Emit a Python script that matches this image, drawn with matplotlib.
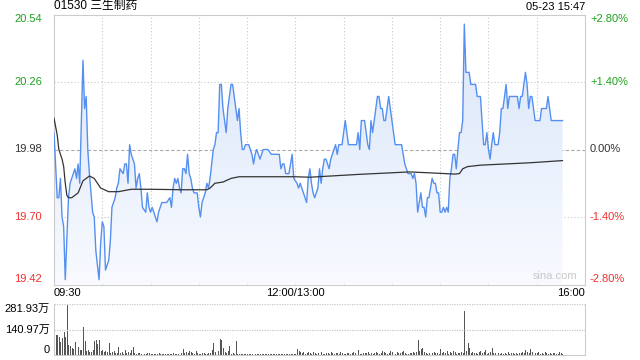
import matplotlib
matplotlib.use("Agg")
import matplotlib.pyplot as plt
import numpy as np

plt.rcParams['font.family'] = ['Liberation Sans', 'Noto Sans CJK SC', 'DejaVu Sans']

title = "01530 三生制药"
stamp = "05-23 15:47"
prev_close = 19.98
y_lo, y_hi = 19.42, 20.54
price_ticks = [20.54, 20.26, 19.98, 19.70, 19.42]
pct_labels = ["+2.80%", "+1.40%", "0.00%", "-1.40%", "-2.80%"]
time_labels = ["09:30", "12:00/13:00", "16:00"]
vol_max = 281.93

# trading minute index (0 = 09:30, 150 = 12:00/13:00, 330 = 16:00) and price
price_t = [0, 2, 3, 4, 5, 6, 7, 9, 10, 11, 13, 14, 15, 16, 18, 19, 20, 21, 22, 24,
           25, 26, 28, 29, 30, 31, 32, 34, 35, 36, 38, 39, 40, 41, 43, 44, 45, 46, 47, 48,
           50, 51, 52, 53, 54, 55, 57, 58, 59, 60, 61, 62, 63, 64, 65, 67, 70, 72, 73, 74,
           75, 76, 77, 78, 79, 80, 81, 82, 83, 84, 85, 86, 87, 89, 90, 91, 92, 93, 94, 95,
           96, 97, 98, 99, 100, 101, 102, 103, 104, 105, 106, 107, 108, 109, 110, 111, 112, 113, 114, 115,
           116, 117, 118, 119, 121, 122, 123, 124, 125, 126, 127, 128, 129, 130, 133, 135, 140, 141, 142, 143,
           144, 146, 147, 148, 149, 151, 152, 153, 154, 155, 156, 157, 158, 159, 160, 161, 162, 163, 164, 165,
           166, 167, 168, 169, 170, 171, 172, 173, 174, 175, 176, 177, 179, 180, 181, 182, 183, 188, 189, 190,
           191, 193, 194, 195, 196, 197, 198, 199, 200, 201, 202, 203, 204, 205, 206, 207, 208, 209, 210, 211,
           212, 216, 217, 218, 219, 220, 222, 223, 224, 225, 226, 227, 228, 229, 230, 231, 232, 233, 234, 235,
           236, 237, 238, 239, 240, 241, 242, 243, 244, 245, 246, 247, 248, 249, 250, 251, 252, 253, 254, 255,
           256, 258, 259, 262, 263, 265, 266, 267, 268, 269, 270, 271, 272, 273, 274, 276, 277, 278, 279, 280,
           281, 282, 283, 288, 289, 290, 291, 292, 293, 294, 295, 296, 297, 298, 299, 302, 303, 306, 307, 308,
           309, 316]
price = [20.05, 19.78, 19.78, 19.86, 19.70, 19.66, 19.44, 19.78, 19.84, 19.86, 19.90, 19.86, 19.92, 19.84, 20.35, 20.15, 20.20, 19.98, 19.88, 19.72,
         19.70, 19.56, 19.44, 19.59, 19.68, 19.66, 19.48, 19.52, 19.60, 19.74, 19.78, 19.82, 19.84, 19.90, 19.88, 19.92, 19.92, 19.84, 20.00, 19.96,
         19.92, 19.82, 19.86, 19.88, 19.82, 19.74, 19.72, 19.80, 19.74, 19.72, 19.74, 19.72, 19.70, 19.68, 19.72, 19.76, 19.76, 19.78, 19.74, 19.82,
         19.86, 19.84, 19.86, 19.82, 19.80, 19.90, 19.90, 19.88, 19.96, 19.88, 19.86, 19.82, 19.80, 19.80, 19.74, 19.70, 19.76, 19.78, 19.80, 19.84,
         19.82, 19.86, 19.92, 19.98, 20.00, 20.05, 20.05, 20.25, 20.25, 20.15, 20.10, 20.05, 20.15, 20.20, 20.25, 20.25, 20.20, 20.15, 20.10, 20.15,
         20.05, 19.98, 19.98, 20.00, 20.00, 19.98, 19.96, 19.92, 19.96, 19.98, 19.96, 19.94, 19.96, 19.98, 19.98, 19.96, 19.96, 19.90, 19.92, 19.92,
         19.88, 19.88, 19.92, 19.96, 19.86, 19.84, 19.82, 19.84, 19.82, 19.80, 19.78, 19.76, 19.86, 19.90, 19.84, 19.80, 19.78, 19.80, 19.82, 19.90,
         19.84, 19.90, 19.94, 19.94, 19.92, 19.90, 19.94, 19.96, 19.98, 20.00, 19.96, 20.00, 20.00, 20.05, 20.10, 20.05, 20.00, 20.00, 20.05, 19.98,
         20.10, 20.10, 20.05, 20.00, 19.98, 20.10, 20.05, 20.10, 20.15, 20.20, 20.20, 20.15, 20.15, 20.10, 20.10, 20.15, 20.20, 20.15, 20.10, 20.05,
         20.00, 20.00, 19.96, 19.92, 19.90, 19.88, 19.88, 19.86, 19.88, 19.84, 19.72, 19.76, 19.80, 19.74, 19.74, 19.70, 19.78, 19.78, 19.82, 19.86,
         19.84, 19.84, 19.80, 19.80, 19.72, 19.72, 19.74, 19.72, 19.74, 19.72, 19.86, 19.90, 19.96, 19.96, 19.90, 19.98, 20.05, 20.05, 20.10, 20.50,
         20.30, 20.30, 20.25, 20.25, 20.20, 20.20, 20.10, 20.00, 20.00, 20.05, 19.98, 19.94, 20.00, 20.05, 20.00, 20.00, 20.05, 20.15, 20.15, 20.20,
         20.25, 20.15, 20.20, 20.20, 20.15, 20.20, 20.20, 20.25, 20.30, 20.25, 20.15, 20.20, 20.20, 20.15, 20.10, 20.10, 20.15, 20.15, 20.20, 20.15,
         20.10, 20.10]

# average price line
avg_t = [0, 2, 3, 5, 6, 7, 8, 9, 11, 15, 18, 22, 25, 27, 29, 34, 40, 48, 60, 80,
         95, 97, 100, 105, 110, 115, 150, 159, 190, 221, 234, 249, 252, 254, 257, 265, 296, 316]
avg_p = [20.11, 20.04, 19.98, 19.94, 19.91, 19.84, 19.79, 19.78, 19.78, 19.80, 19.85, 19.87, 19.86, 19.84, 19.82, 19.805, 19.805, 19.815, 19.815, 19.813,
         19.813, 19.82, 19.84, 19.845, 19.86, 19.867, 19.867, 19.865, 19.877, 19.887, 19.883, 19.878, 19.88, 19.90, 19.909, 19.915, 19.925, 19.934]

# volume per minute, in 万 shares
volume = [166, 112, 108, 100, 70, 95, 125, 100, 282, 55,
          48, 40, 35, 70, 150, 45, 25, 30, 155, 75,
          20, 25, 18, 15, 30, 75, 85, 60, 82, 20,
          25, 15, 20, 18, 65, 12, 15, 22, 10, 12,
          45, 12, 15, 8, 30, 10, 14, 12, 25, 45,
          10, 8, 12, 9, 7, 10, 6, 8, 12, 10,
          6, 5, 8, 4, 6, 9, 5, 7, 6, 8,
          5, 7, 4, 6, 10, 8, 6, 5, 12, 10,
          35, 10, 15, 9, 22, 14, 12, 8, 20, 10,
          7, 6, 9, 12, 6, 8, 10, 12, 25, 65,
          15, 12, 20, 90, 85, 40, 15, 12, 20, 50,
          8, 12, 6, 75, 5, 7, 4, 6, 5, 4,
          6, 3, 5, 4, 6, 5, 3, 4, 5, 3,
          4, 6, 3, 5, 4, 3, 6, 4, 5, 3,
          5, 4, 6, 3, 4, 5, 3, 4, 6, 5,
          8, 35, 20, 15, 10, 18, 8, 12, 15, 10,
          8, 14, 10, 6, 12, 9, 15, 8, 6, 10,
          12, 8, 14, 10, 6, 9, 12, 8, 15, 10,
          6, 8, 10, 12, 7, 9, 14, 10, 22, 30,
          8, 6, 10, 12, 9, 14, 8, 10, 6, 12,
          15, 10, 8, 12, 20, 14, 10, 8, 12, 22,
          16, 10, 8, 14, 12, 10, 14, 20, 10, 6,
          8, 12, 10, 15, 12, 18, 85, 20, 35, 40,
          14, 10, 6, 12, 8, 10, 14, 10, 12, 8,
          35, 12, 15, 10, 20, 8, 14, 12, 20, 14,
          8, 10, 12, 15, 10, 243, 20, 65, 40, 10,
          14, 12, 10, 8, 18, 20, 12, 15, 30, 8,
          10, 14, 40, 12, 9, 6, 10, 8, 12, 6,
          10, 8, 14, 6, 12, 10, 8, 12, 6, 10,
          12, 15, 10, 30, 14, 10, 35, 18, 8, 10,
          12, 15, 8, 10, 6, 14, 10, 8, 12, 6,
          10, 12, 8, 6, 14, 10, 8]

green = '#1ea01e'
red = '#f03030'
grid_c = '#c8c8c8'
frame_c = '#cccccc'

fig = plt.figure(figsize=(6.4, 3.6), dpi=100)
ax = fig.add_axes([54 / 640, 75.5 / 360, 531 / 640, 270 / 360])
axv = fig.add_axes([54 / 640, 5 / 360, 531 / 640, 51 / 360])

# price panel
ax.set_xlim(0, 330)
ax.set_ylim(y_lo, y_hi)
for s in ax.spines.values():
    s.set_color(frame_c)
ax.set_xticks([])
ax.set_yticks([])
for t in range(30, 330, 30):
    ax.axvline(t, color=grid_c, lw=0.8, ls=(0, (1, 2)), zorder=0)
for v in price_ticks[1:-1]:
    if v == prev_close:
        ax.axhline(v, color='#aaaaaa', lw=0.8, ls=(0, (3, 2)), zorder=0)
    else:
        ax.axhline(v, color=grid_c, lw=0.8, ls=(0, (1, 2)), zorder=0)

# gradient fill under the price line
poly = ax.fill_between(price_t, price, y_lo, color='none', lw=0)
grad = np.linspace(0, 1, 256).reshape(-1, 1)
cmap = matplotlib.colors.LinearSegmentedColormap.from_list('g', ['#f8faff', '#d8e5f9'])
im = ax.imshow(grad, aspect='auto', cmap=cmap, origin='lower',
               extent=[0, 330, y_lo, y_hi], zorder=1)
im.set_clip_path(poly.get_paths()[0], transform=ax.transData)
ax.set_xlim(0, 330)
ax.set_ylim(y_lo, y_hi)

ax.plot(price_t, price, color='#5590f0', lw=1.0, zorder=3)
ax.plot(avg_t, avg_p, color='#333333', lw=0.9, zorder=4)

tr = matplotlib.transforms.blended_transform_factory(ax.transAxes, ax.transData)
for i, (v, pl) in enumerate(zip(price_ticks, pct_labels)):
    c = green if v > prev_close else (red if v < prev_close else '#333333')
    va = 'top' if i == 0 else ('bottom' if i == len(price_ticks) - 1 else 'center')
    ax.text(-12 / 531, v, f"{v:.2f}", color=c, fontsize=8, ha='right', va=va, transform=tr)
    ax.text(1 + 5 / 531, v, pl, color=c, fontsize=8, ha='left', va=va, transform=tr)

ax.text(0, 1 + 3 / 270, title, fontsize=8.5, ha='left', va='bottom', transform=ax.transAxes)
ax.text(1, 1 + 3 / 270, stamp, fontsize=8, ha='right', va='bottom', transform=ax.transAxes)
ax.text(0.985, 0.012, "sina.com", fontsize=8, color='#c8c8c8', ha='right', va='bottom',
        transform=ax.transAxes)

ax.text(0, -4 / 270, time_labels[0], fontsize=8, ha='left', va='top', transform=ax.transAxes)
ax.text(150 / 330, -4 / 270, time_labels[1], fontsize=8, ha='center', va='top', transform=ax.transAxes)
ax.text(1, -4 / 270, time_labels[2], fontsize=8, ha='right', va='top', transform=ax.transAxes)

# volume panel
axv.set_xlim(0, 330)
axv.set_ylim(0, vol_max)
for s in axv.spines.values():
    s.set_color(frame_c)
axv.spines['top'].set_visible(False)
axv.set_xticks([])
axv.set_yticks([])
axv.axhline(vol_max, color=grid_c, lw=0.9, ls=(0, (1, 1)))
axv.axhline(vol_max / 2, color=grid_c, lw=0.9, ls=(0, (1, 1)))
axv.bar(np.arange(len(volume)), volume, width=0.6, color='#555555', align='edge')

trv = matplotlib.transforms.blended_transform_factory(axv.transAxes, axv.transData)
axv.text(-4 / 531, vol_max, f"{vol_max:.2f}万", fontsize=8, ha='right', va='top', transform=trv)
axv.text(-4 / 531, vol_max / 2, f"{vol_max / 2:.2f}万", fontsize=8, ha='right', va='center', transform=trv)
axv.text(-4 / 531, 0, "0", fontsize=8, ha='right', va='bottom', transform=trv)

fig.savefig('out.png', dpi=100)
